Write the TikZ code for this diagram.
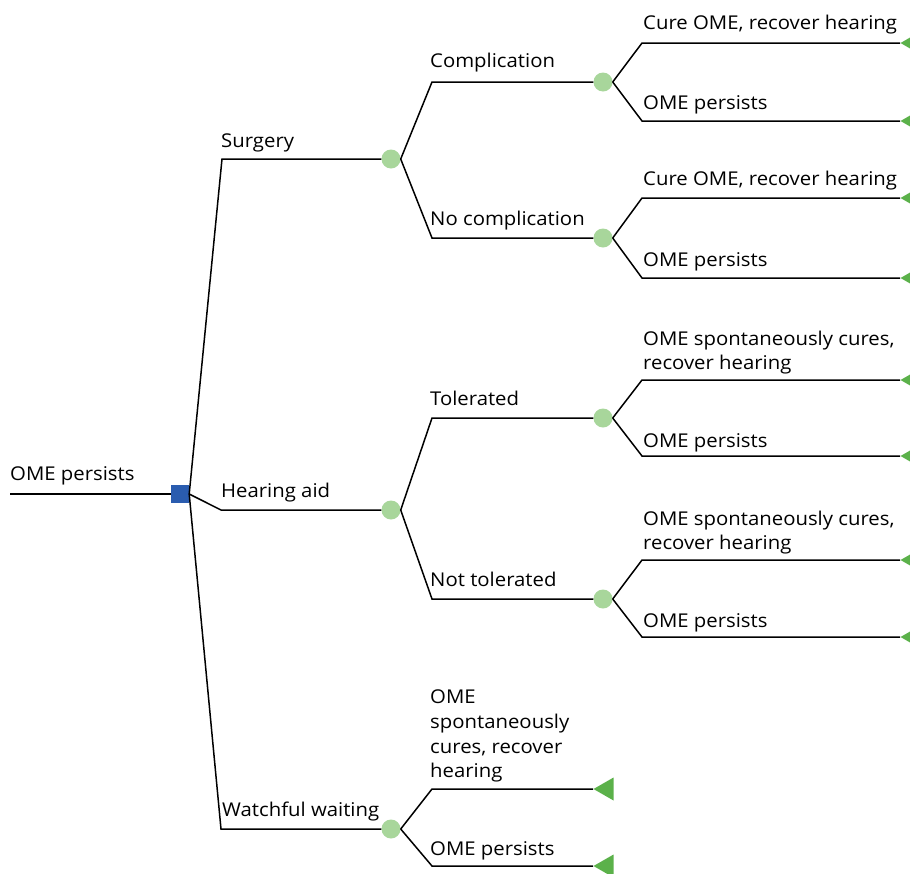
\documentclass[tikz,border=0pt]{standalone}
\usepackage{fontspec}
\setmainfont[FakeStretch=1.07]{Open Sans}
\usetikzlibrary{shapes.geometric}
\definecolor{decblue}{HTML}{2A5CAF}
\definecolor{chgreen}{HTML}{A8D69B}
\definecolor{tgreen}{HTML}{5BB14A}
\tikzset{
  br/.style={line width=1.5pt, black},
  chance/.style={circle, fill=chgreen, minimum size=19pt, inner sep=0pt, draw=none},
  decision/.style={rectangle, fill=decblue, minimum size=18pt, inner sep=0pt, draw=none},
  term/.style={isosceles triangle, isosceles triangle stretches, shape border rotate=180,
     minimum width=23pt, minimum height=20pt, inner sep=0pt, fill=tgreen, draw=none, anchor=apex},
  lab/.style={anchor=base west, inner sep=0pt, font=\fontsize{19}{24}\selectfont, align=left},
}
\begin{document}
\begin{tikzpicture}[x=1pt,y=-1pt]
\useasboundingbox (0,0) rectangle (910,873);
% decision and chance nodes
\node[decision] (D) at (180,494) {};
\node[chance] (S) at (391,159) {};
\node[chance] (H) at (391,510) {};
\node[chance] (W) at (391,829) {};
\node[chance] (SC) at (603,82) {};
\node[chance] (SN) at (603,238) {};
\node[chance] (HT) at (603,418) {};
\node[chance] (HN) at (603,599) {};
% terminals
\node[term] (t1) at (900,43) {};
\node[term] (t2) at (900,121) {};
\node[term] (t3) at (900,198) {};
\node[term] (t4) at (900,278) {};
\node[term] (t5) at (900,380) {};
\node[term] (t6) at (900,456) {};
\node[term] (t7) at (900,560) {};
\node[term] (t8) at (900,637) {};
\node[term] (t9) at (593,789) {};
\node[term] (t10) at (593,866) {};
% corner coordinates
\coordinate (r0) at (10,494);
\coordinate (s0) at (222,159);
\coordinate (h0) at (221,510);
\coordinate (w0) at (221,829);
\coordinate (sc0) at (432,82);
\coordinate (sn0) at (432,238);
\coordinate (ht0) at (432,418);
\coordinate (hn0) at (432,599);
\coordinate (w1) at (432,789);
\coordinate (w2) at (432,866);
\coordinate (a1) at (642,43);
\coordinate (a2) at (642,121);
\coordinate (a3) at (642,198);
\coordinate (a4) at (642,278);
\coordinate (a5) at (642,380);
\coordinate (a6) at (642,456);
\coordinate (a7) at (642,560);
\coordinate (a8) at (642,637);
% branches
\draw[br] (r0) -- (D.west);
\draw[br] (D.east) -- (s0) -- (S);
\draw[br] (D.east) -- (h0) -- (H);
\draw[br] (D.east) -- (w0) -- (W);
\draw[br] (S.east) -- (sc0) -- (SC);
\draw[br] (S.east) -- (sn0) -- (SN);
\draw[br] (H.east) -- (ht0) -- (HT);
\draw[br] (H.east) -- (hn0) -- (HN);
\draw[br] (W.east) -- (w1) -- (t9.apex);
\draw[br] (W.east) -- (w2) -- (t10.apex);
\draw[br] (SC.east) -- (a1) -- (t1.apex);
\draw[br] (SC.east) -- (a2) -- (t2.apex);
\draw[br] (SN.east) -- (a3) -- (t3.apex);
\draw[br] (SN.east) -- (a4) -- (t4.apex);
\draw[br] (HT.east) -- (a5) -- (t5.apex);
\draw[br] (HT.east) -- (a6) -- (t6.apex);
\draw[br] (HN.east) -- (a7) -- (t7.apex);
\draw[br] (HN.east) -- (a8) -- (t8.apex);
% labels
\node[lab] (l0) at (10,480) {OME persists};
\node[lab] (l1) at (221,147) {Surgery};
\node[lab] (l2) at (221,497) {Hearing aid};
\node[lab] (l3) at (222,816) {Watchful waiting};
\node[lab] (l4) at (430,67) {Complication};
\node[lab] (l5) at (430,225) {No complication};
\node[lab] (l6) at (430,405) {Tolerated};
\node[lab] (l7) at (430,586) {Not tolerated};
\node[lab] (l8) at (643,29) {Cure OME, recover hearing};
\node[lab] (l9) at (643,109) {OME persists};
\node[lab] (l10) at (643,185) {Cure OME, recover hearing};
\node[lab] (l11) at (643,266) {OME persists};
\node[lab] (l12) at (643,345) {OME spontaneously cures,};
\node[lab] (l13) at (643,369) {recover hearing};
\node[lab] (l14) at (643,447) {OME persists};
\node[lab] (l15) at (643,525) {OME spontaneously cures,};
\node[lab] (l16) at (643,549) {recover hearing};
\node[lab] (l17) at (643,627) {OME persists};
\node[lab] (l18) at (430,703) {OME};
\node[lab] (l19) at (430,728) {spontaneously};
\node[lab] (l20) at (430,753) {cures, recover};
\node[lab] (l21) at (430,777) {hearing};
\node[lab] (l22) at (430,855) {OME persists};
\end{tikzpicture}
\end{document}
